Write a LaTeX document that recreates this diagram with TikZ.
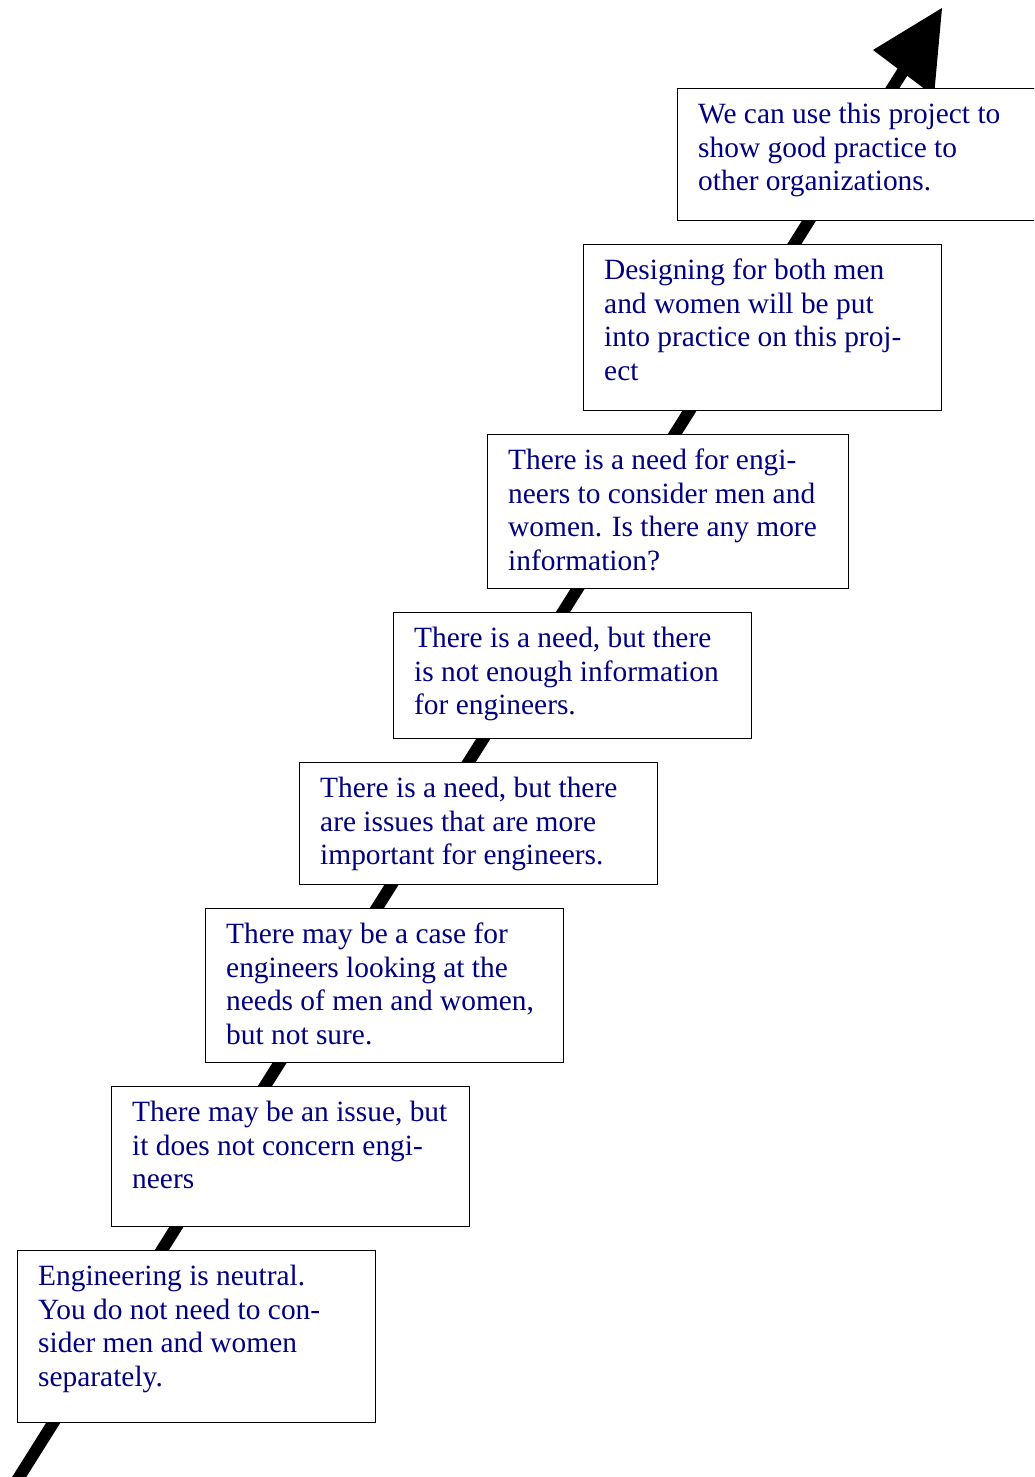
\documentclass[tikz,border=0pt]{standalone}
\usepackage{fontspec}
\setmainfont{Liberation Serif}
\definecolor{txtblue}{RGB}{0,0,128}
\begin{document}
\begin{tikzpicture}[x=1pt,y=-1pt,
  stepbox/.style={draw=black, line width=1.4pt, fill=white, rectangle, inner sep=0pt, anchor=north west, minimum width=358pt},
  steptext/.style={inner sep=0pt, anchor=north west, align=left, text=txtblue, font=\fontsize{29.4}{33.8}\selectfont, xshift=21pt, yshift=-11.5pt},
  shaft/.style={line width=12pt, black}]
\useasboundingbox (0,0) rectangle (1034,1477);
\clip (0,0) rectangle (1034,1477);
% arrow shaft and head
\coordinate (start) at (11,1490);
\coordinate (headbase) at (905,68);
\draw[shaft] (start) -- (headbase);
\coordinate (tip) at (942,8);
\coordinate (barbL) at (873,50);
\coordinate (barbR) at (934,96);
\fill[black] (tip) -- (barbL) -- (barbR) -- cycle;
% boxes
\node[stepbox, minimum width=375pt, minimum height=132pt] (b1) at (677,88) {};
\node[stepbox, minimum height=166pt] (b2) at (583,244) {};
\node[stepbox, minimum width=361pt, minimum height=154pt] (b3) at (487,434) {};
\node[stepbox, minimum height=126pt] (b4) at (393,612) {};
\node[stepbox, minimum height=122pt] (b5) at (299,762) {};
\node[stepbox, minimum height=154pt] (b6) at (205,908) {};
\node[stepbox, minimum height=140pt] (b7) at (111,1086) {};
\node[stepbox, minimum height=172pt] (b8) at (17,1250) {};
% texts
\node[steptext] (t1) at (b1.north west) {\strut We can use this project to\\show good practice to\\other organizations.};
\node[steptext] (t2) at (b2.north west) {\strut Designing for both men\\and women will be put\\into practice on this proj-\\ect};
\node[steptext] (t3) at (b3.north west) {\strut There is a need for engi-\\neers to consider men and\\women. Is there any more\\information?};
\node[steptext] (t4) at (b4.north west) {\strut There is a need, but there\\is not enough information\\for engineers.};
\node[steptext] (t5) at (b5.north west) {\strut There is a need, but there\\are issues that are more\\important for engineers.};
\node[steptext] (t6) at (b6.north west) {\strut There may be a case for\\engineers looking at the\\needs of men and women,\\but not sure.};
\node[steptext] (t7) at (b7.north west) {\strut There may be an issue, but\\it does not concern engi-\\neers};
\node[steptext] (t8) at (b8.north west) {\strut Engineering is neutral.\\You do not need to con-\\sider men and women\\separately.};
\end{tikzpicture}
\end{document}
